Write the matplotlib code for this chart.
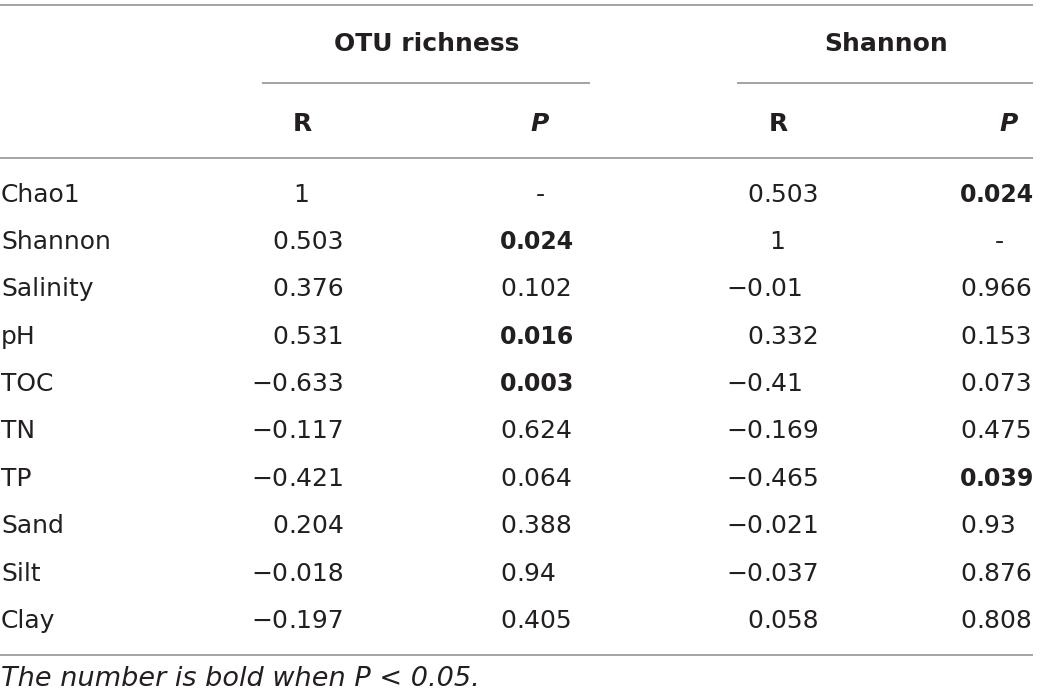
import matplotlib
matplotlib.use('Agg')
import matplotlib.pyplot as plt

# table contents
rows = ['Chao1', 'Shannon', 'Salinity', 'pH', 'TOC', 'TN', 'TP', 'Sand', 'Silt', 'Clay']
otu_r = ['1', '0.503', '0.376', '0.531', '\u22120.633', '\u22120.117', '\u22120.421', '0.204', '\u22120.018', '\u22120.197']
otu_p = ['-', '0.024', '0.102', '0.016', '0.003', '0.624', '0.064', '0.388', '0.94', '0.405']
sh_r = ['0.503', '1', '\u22120.01', '0.332', '\u22120.41', '\u22120.169', '\u22120.465', '\u22120.021', '\u22120.037', '0.058']
sh_p = ['0.024', '-', '0.966', '0.153', '0.073', '0.475', '0.039', '0.93', '0.876', '0.808']
groups = ['OTU richness', 'Shannon']
note = 'The number is bold when P < 0.05.'

plt.rcParams['font.family'] = ['DejaVu Sans']
txt = '#231f20'
rule = '#8a8a8a'
fs = 18

fig = plt.figure(figsize=(10.4, 6.99), dpi=100)
ax = fig.add_axes([0, 0, 1, 1])
ax.set_xlim(0, 1040)
ax.set_ylim(699, 0)
ax.axis('off')

# horizontal rules
lw = 1.1
ax.hlines(5, 0, 1033, color=rule, lw=lw)
ax.hlines(83, 262, 590, color=rule, lw=lw)
ax.hlines(83, 737, 1033, color=rule, lw=lw)
ax.hlines(158, 0, 1033, color=rule, lw=lw)
ax.hlines(655, 0, 1033, color=rule, lw=lw)

# group headers
ax.text(427, 51, groups[0], ha='center', va='baseline', fontsize=fs, fontweight='bold', color=txt)
ax.text(886, 51, groups[1], ha='center', va='baseline', fontsize=fs, fontweight='bold', color=txt)

# sub headers
for x, lab in zip([302, 540, 778, 1009], ['R', 'P', 'R', 'P']):
    ax.text(x, 131, lab, ha='center', va='baseline', fontsize=fs, fontweight='bold',
            style='italic' if lab == 'P' else 'normal', color=txt)


def put_num(x_dec, x_mid, y, s, bold=False):
    w = 'bold' if bold else 'normal'
    size = 17 if bold else fs
    if '.' in s:
        a, b = s.split('.', 1)
        ax.text(x_dec, y, a, ha='right', va='baseline', fontsize=size, fontweight=w, color=txt)
        ax.text(x_dec, y, '.' + b, ha='left', va='baseline', fontsize=size, fontweight=w, color=txt)
    else:
        ax.text(x_mid, y, s, ha='center', va='baseline', fontsize=size, fontweight=w, color=txt)


def is_sig(p):
    return p != '-' and float(p) < 0.05


y0 = 193
step = 47.4
for i, name in enumerate(rows):
    yb = y0 + i * step + 8.5
    ax.text(1, yb, name, ha='left', va='baseline', fontsize=fs, color=txt)
    put_num(288, 301, yb, otu_r[i])
    put_num(516, 540, yb, otu_p[i], is_sig(otu_p[i]))
    put_num(763, 777, yb, sh_r[i])
    put_num(976, 999, yb, sh_p[i], is_sig(sh_p[i]))

ax.text(1, 686, note, ha='left', va='baseline', fontsize=19.5, style='italic', color=txt)

fig.savefig('out.png', dpi=100)
